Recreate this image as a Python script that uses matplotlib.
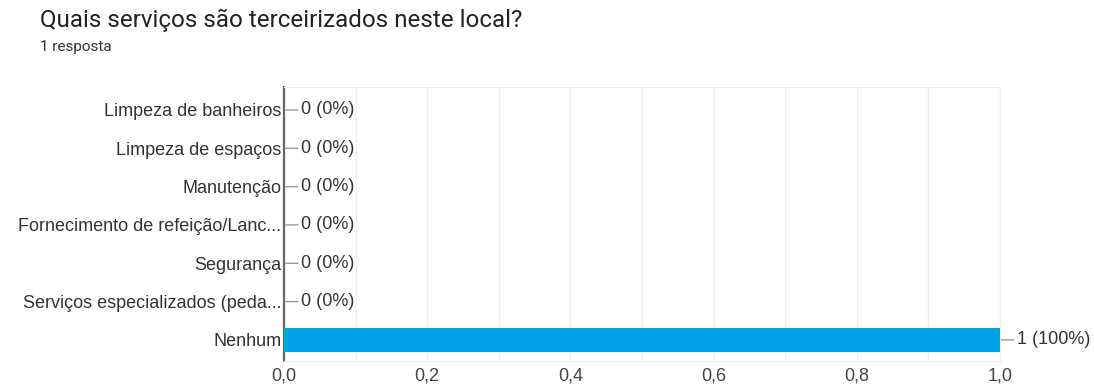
import matplotlib.pyplot as plt
import numpy as np

plt.rcParams['font.family'] = ['Liberation Sans', 'DejaVu Sans']

categories = ["Limpeza de banheiros", "Limpeza de espaços", "Manutenção",
              "Fornecimento de refeição/Lanc...", "Segurança",
              "Serviços especializados (peda...", "Nenhum"]
counts = [0, 0, 0, 0, 0, 0, 1]
total = 1
xticks = [0.0, 0.2, 0.4, 0.6, 0.8, 1.0]

fig = plt.figure(figsize=(10.94, 3.87), dpi=100)
ax = fig.add_axes([284 / 1094, 1 - 361 / 387, 716 / 1094, 274 / 387])

y = np.arange(len(categories))
ax.barh(y, counts, height=0.62, color="#03a3e8", zorder=3)
ax.set_ylim(len(categories) - 0.45, -0.6)
ax.set_xlim(0, 1)

for yi, c in zip(y, counts):
    pct = 100 * c / total
    ax.annotate(f"{c} ({pct:.0f}%)", xy=(c, yi), xytext=(12, 0),
                textcoords="offset points", va="center", ha="left",
                fontsize=13, color="#333333",
                arrowprops=dict(arrowstyle="-", color="#999999", lw=1,
                                shrinkA=0, shrinkB=1))

ax.set_yticks(y)
ax.set_yticklabels(categories, fontsize=13, color="#333333")
ax.tick_params(axis="y", length=0, pad=2)

ax.set_xticks(xticks)
ax.set_xticklabels([f"{t:.1f}".replace(".", ",") for t in xticks],
                   fontsize=13, color="#444444")
ax.tick_params(axis="x", length=0, pad=5)
ax.set_xticks(np.arange(0.1, 1.0, 0.2), minor=True)
ax.tick_params(axis="x", which="minor", length=0)
ax.grid(axis="x", which="both", color="#eeeeee", lw=1, zorder=0)

for s in ["top", "right", "bottom"]:
    ax.spines[s].set_color("#eeeeee")
ax.spines["left"].set_color("#666666")
ax.spines["left"].set_linewidth(1.6)

fig.text(40 / 1094, 1 - 20 / 387, "Quais serviços são terceirizados neste local?",
         fontsize=17.4, color="#222222", va="center", family=["Roboto"])
fig.text(40 / 1094, 1 - 47 / 387, "1 resposta", fontsize=11, color="#333333",
         va="center", family=["Roboto"])

fig.savefig("out.png", dpi=100, facecolor="white")
